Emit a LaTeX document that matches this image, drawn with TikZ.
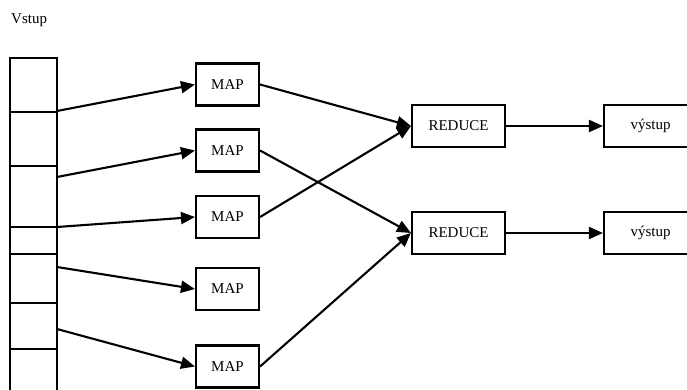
\documentclass[tikz,border=0pt]{standalone}
\usepackage{fontspec}
\setmainfont{Liberation Serif}
\usetikzlibrary{arrows.meta}
\begin{document}
\begin{tikzpicture}[x=1pt,y=-1pt,
  box/.style={draw,line width=2.1pt,inner sep=0pt,minimum height=42pt,font=\fontsize{15}{18}\selectfont},
  mapbox/.style={box,minimum width=63pt},
  redbox/.style={box,minimum width=93pt},
  conn/.style={line width=2.1pt,-{Triangle[length=14pt,width=12pt]}}]
\useasboundingbox (0,0) rectangle (687,389);
\clip (0,0) rectangle (687,389);
% input column
\draw[line width=2.1pt] (10,400) -- (10,58) -- (57,58) -- (57,400);
\foreach \yy in {112,166,227,254,303,349}
  \draw[line width=1.8pt] (10,\yy) -- (57,\yy);
\node[anchor=west,font=\fontsize{15}{18}\selectfont,inner sep=0pt] (vstup) at (11,20) {Vstup};
\coordinate (c1) at (57,111);
\coordinate (c2) at (57,177);
\coordinate (c3) at (57,227);
\coordinate (c4) at (57,267);
\coordinate (c5) at (57,329);
% MAP boxes
\node[mapbox] (m1) at (227.5,84.5) {MAP};
\node[mapbox] (m2) at (227.5,150.5) {MAP};
\node[mapbox] (m3) at (227.5,217) {MAP};
\node[mapbox] (m4) at (227.5,289) {MAP};
\node[mapbox] (m5) at (227.5,366.5) {MAP};
% REDUCE boxes
\node[redbox] (r1) at (458.5,126) {REDUCE};
\node[redbox] (r2) at (458.5,233) {REDUCE};
% outputs
\node[redbox] (o1) at (650.5,126) {výstup};
\node[redbox] (o2) at (650.5,233) {výstup};
% connectors
\draw[conn] (c1) -- (m1.west);
\draw[conn] (c2) -- (m2.west);
\draw[conn] (c3) -- (m3.west);
\draw[conn] (c4) -- (m4.west);
\draw[conn] (c5) -- (m5.west);
\draw[conn] (m1.east) -- (r1.west);
\draw[conn] (m3.east) -- (r1.west);
\draw[conn] (m2.east) -- (r2.west);
\draw[conn] (m5.east) -- (r2.west);
\draw[conn] (r1.east) -- (o1.west);
\draw[conn] (r2.east) -- (o2.west);
\end{tikzpicture}
\end{document}
